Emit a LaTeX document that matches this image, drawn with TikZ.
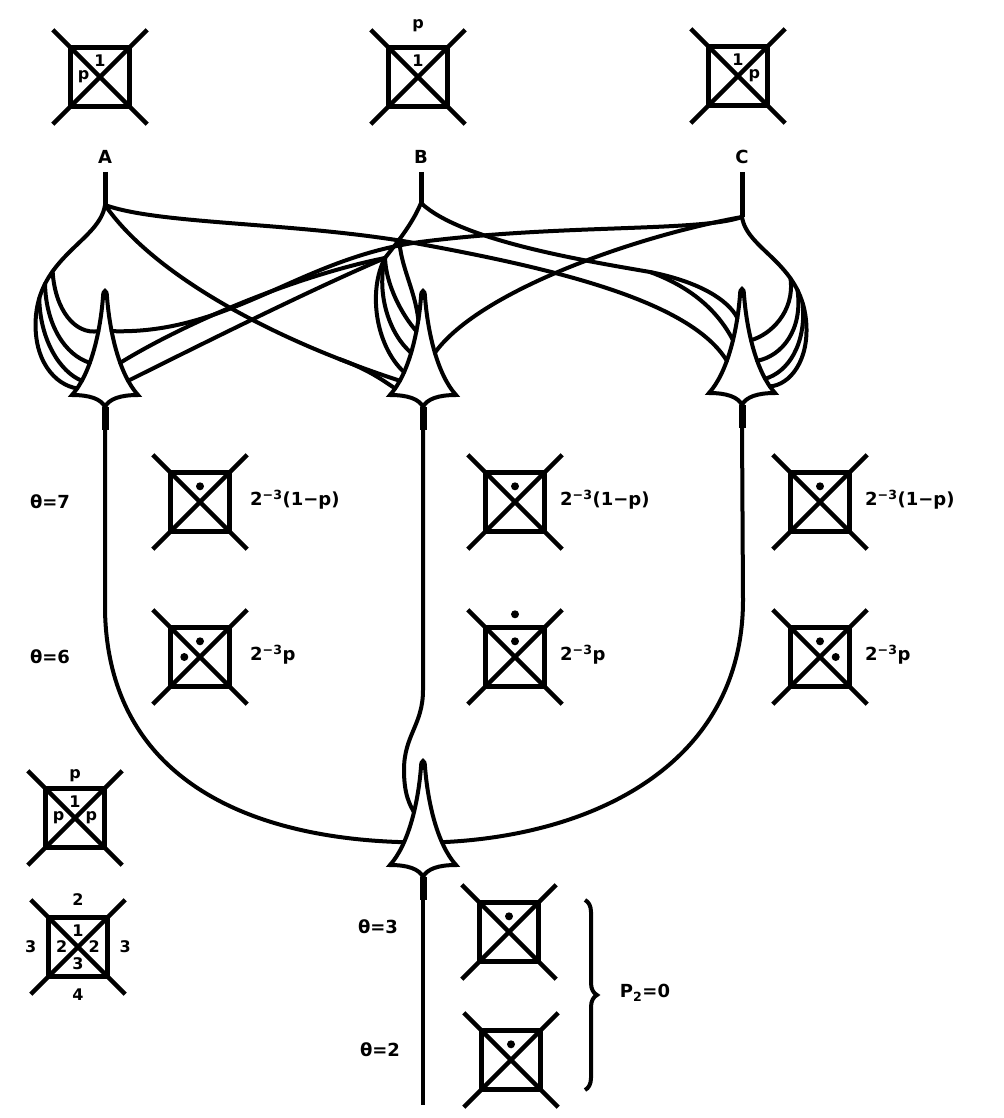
\documentclass[tikz,border=0pt]{standalone}
\usepackage{fontspec}
\setmainfont{DejaVu Sans}
\usetikzlibrary{calc,decorations.pathreplacing}

\tikzset{
  fibre/.style={line width=4pt, line cap=round},
  stem/.style={line width=5pt},
  axon/.style={line width=4pt},
  cellbox/.style={draw, line width=5pt, minimum size=59pt, inner sep=0pt, outer sep=0pt},
  diag/.style={line width=4.5pt},
  inlab/.style={font=\fontsize{16}{16}\selectfont\bfseries, inner sep=0pt, label distance=-19pt},
  outlab/.style={font=\fontsize{16}{16}\selectfont\bfseries, inner sep=0pt, label distance=12pt},
  dotin/.style={circle, fill, minimum size=8pt, inner sep=0pt, label distance=-18pt},
  dotout/.style={circle, fill, minimum size=8pt, inner sep=0pt, label distance=9pt},
  txt/.style={font=\fontsize{18}{18}\selectfont\bfseries, inner sep=0pt},
  brace/.style={decorate, decoration={brace, amplitude=12pt}, line width=4pt},
  soma/.pic={
    \filldraw[fill=white, line width=4pt]
      (-33,0) .. controls (-15,-20) and (-5,-60) ..
        coordinate[pos=.1] (-l1) coordinate[pos=.2] (-l2) coordinate[pos=.3] (-l3)
        coordinate[pos=.4] (-l4) coordinate[pos=.5] (-l5) coordinate[pos=.6] (-l6)
        coordinate[pos=.7] (-l7) coordinate[pos=.8] (-l8) (-2,-98)
      .. controls (-2,-106) and (2,-106) .. (2,-98)
      .. controls (5,-60) and (15,-20) ..
        coordinate[pos=.2] (-r8) coordinate[pos=.3] (-r7) coordinate[pos=.4] (-r6)
        coordinate[pos=.5] (-r5) coordinate[pos=.6] (-r4) coordinate[pos=.7] (-r3)
        coordinate[pos=.8] (-r2) coordinate[pos=.9] (-r1) (33,0)
      .. controls (15,0) and (4,4) .. (0,12)
      .. controls (-4,4) and (-15,0) .. (-33,0) -- cycle;
    \draw[line width=7pt] (0,12) -- (0,35);
    \coordinate (-axon) at (0,34);
  }
}

\begin{document}
\begin{tikzpicture}[x=1pt, y=-1pt]
  \useasboundingbox (0,0) rectangle (1003,1118);

  % input patterns
  \node[cellbox, label={[inlab]above:1}, label={[inlab]left:p}] (tA) at (100,77) {};
  \node[cellbox, label={[inlab]above:1}, label={[outlab, label distance=15pt]above:p}] (tB) at (418,77) {};
  \node[cellbox, label={[inlab]above:1}, label={[inlab]right:p}] (tC) at (738,76) {};
  \node[txt] (lA) at (105,157) {A};
  \node[txt] (lB) at (421,157) {B};
  \node[txt] (lC) at (742,157) {C};

  % cells
  \pic (sA) at (105,395) {soma};
  \pic (sB) at (423,395) {soma};
  \pic (sC) at (742,393) {soma};
  \pic (sD) at (423,865) {soma};

  \coordinate (bA) at (105,205);
  \coordinate (bB) at (421,203);
  \coordinate (bC) at (742,217);
  \coordinate (bB2) at (385,258);

  % fibre A
  \draw[stem] ([yshift=-8pt]lA.south) -- (bA);
  \draw[fibre] (bA) .. controls (100,240) and (42,255) .. coordinate[pos=.7] (pA1)
    coordinate[pos=.8] (pA2) coordinate[pos=.9] (pA3) (36,315)
    .. controls (32,360) and (55,385) .. (sA-l1);
  \draw[fibre] (pA1) .. controls (55,310) and (75,335) .. (sA-l7);
  \draw[fibre] (pA2) .. controls (46,325) and (65,355) .. (sA-l4);
  \draw[fibre] (pA3) .. controls (40,340) and (60,372) .. (sA-l2);
  \draw[fibre] (bA) .. controls (150,270) and (260,335) .. coordinate[pos=.85] (pAB) (sB-l2);
  \draw[fibre] (pAB) .. controls (370,370) and (385,382) .. (sB-l1);
  \draw[fibre] (bA) .. controls (160,225) and (300,222) .. (420,244)
    .. controls (550,268) and (690,300) .. (sC-l4);

  % fibre B
  \draw[stem] ([yshift=-8pt]lB.south) -- (bB);
  \draw[fibre] (bB) .. controls (412,225) and (395,245) .. coordinate[pos=.6] (pB0) (bB2);
  \draw[fibre] (bB2) .. controls (368,290) and (375,345) .. (sB-l3);
  \draw[fibre] (bB2) .. controls (376,295) and (390,335) .. (sB-l5);
  \draw[fibre] (bB2) .. controls (386,285) and (402,315) .. (sB-l7);
  \draw[fibre] (pB0) .. controls (400,265) and (415,290) .. (sB-l8);
  \draw[fibre] (bB2) .. controls (300,275) and (190,320) .. (sA-r4);
  \draw[fibre] (bB2) .. controls (310,290) and (200,345) .. (sA-r2);
  \draw[fibre] (bB) .. controls (460,240) and (580,260) .. (650,272) coordinate (jBC)
    .. controls (700,282) and (728,300) .. (sC-l8);
  \draw[fibre] (jBC) .. controls (705,292) and (725,325) .. (sC-l6);

  % fibre C
  \draw[stem] ([yshift=-8pt]lC.south) -- (bC);
  \draw[fibre] (bC) .. controls (747,250) and (800,262) .. coordinate[pos=.7] (pC1)
    coordinate[pos=.8] (pC2) coordinate[pos=.9] (pC3) (806,320)
    .. controls (810,360) and (790,385) .. (sC-r1);
  \draw[fibre] (pC1) .. controls (795,312) and (770,335) .. (sC-r6);
  \draw[fibre] (pC2) .. controls (803,330) and (782,356) .. (sC-r4);
  \draw[fibre] (pC3) .. controls (806,345) and (788,372) .. (sC-r2);
  \draw[fibre] (bC) .. controls (700,232) and (560,224) .. (420,242)
    .. controls (300,258) and (230,335) .. (sA-r7);
  \draw[fibre] (bC) .. controls (640,235) and (480,290) .. (sB-r5);

  % axons
  \coordinate (dEnd) at (423,1105);
  \draw[axon] (sA-axon) -- (105,610) .. controls (108,780) and (250,838) .. (sD-l3);
  \draw[axon] (sB-axon) -- (423,690) .. controls (423,725) and (404,735) .. (404,770)
    .. controls (404,795) and (410,805) .. (sD-l6);
  \draw[axon] (sC-axon) -- (743,600) .. controls (743,760) and (600,835) .. (sD-r3);
  \draw[axon] (sD-axon) -- (dEnd);

  % states
  \node[txt] (t7) at (50,502) {θ=7};
  \node[txt] (t6) at (50,657) {θ=6};
  \node[cellbox, label={[dotin]above:{}}] (c7a) at (200,502) {};
  \node[cellbox, label={[dotin]above:{}}] (c7b) at (515,502) {};
  \node[cellbox, label={[dotin]above:{}}] (c7c) at (820,502) {};
  \node[cellbox, label={[dotin]above:{}}, label={[dotin]left:{}}] (c6a) at (200,657) {};
  \node[cellbox, label={[dotin]above:{}}, label={[dotout]above:{}}] (c6b) at (515,657) {};
  \node[cellbox, label={[dotin]above:{}}, label={[dotin]right:{}}] (c6c) at (820,657) {};
  \node[txt, anchor=west] (f7a) at (250,500) {2\textsuperscript{−3}(1−p)};
  \node[txt, anchor=west] (f7b) at (560,500) {2\textsuperscript{−3}(1−p)};
  \node[txt, anchor=west] (f7c) at (865,500) {2\textsuperscript{−3}(1−p)};
  \node[txt, anchor=west] (f6a) at (250,655) {2\textsuperscript{−3}p};
  \node[txt, anchor=west] (f6b) at (560,655) {2\textsuperscript{−3}p};
  \node[txt, anchor=west] (f6c) at (865,655) {2\textsuperscript{−3}p};

  % key
  \node[cellbox, label={[inlab]above:1}, label={[inlab]left:p}, label={[inlab]right:p},
    label={[outlab, label distance=6pt]above:p}] (kP) at (75,818) {};
  \node[cellbox, label={[inlab]above:1}, label={[inlab]left:2}, label={[inlab]right:2},
    label={[inlab]below:3}, label={[outlab]above:2}, label={[outlab]left:3},
    label={[outlab]right:3}, label={[outlab]below:4}] (kN) at (78,947) {};

  % output
  \node[txt] (t3) at (378,927) {θ=3};
  \node[txt] (t2) at (380,1050) {θ=2};
  \node[cellbox, label={[dotin]above:{}}] (c3) at (509,932) {};
  \node[cellbox, label={[dotin]above:{}}] (c2) at (511,1060) {};
  \coordinate (brT) at (585,900);
  \coordinate (brB) at (585,1090);
  \draw[brace] (brT) -- (brB);
  \node[txt] (pz) at (645,993) {P\textsubscript{2}=0};

  \foreach \c in {tA,tB,tC,c7a,c7b,c7c,c6a,c6b,c6c,kP,kN,c3,c2} {
    \draw[diag] ($(\c.center)!1.6!(\c.north west)$) -- ($(\c.center)!1.6!(\c.south east)$);
    \draw[diag] ($(\c.center)!1.6!(\c.north east)$) -- ($(\c.center)!1.6!(\c.south west)$);
  }
\end{tikzpicture}
\end{document}
